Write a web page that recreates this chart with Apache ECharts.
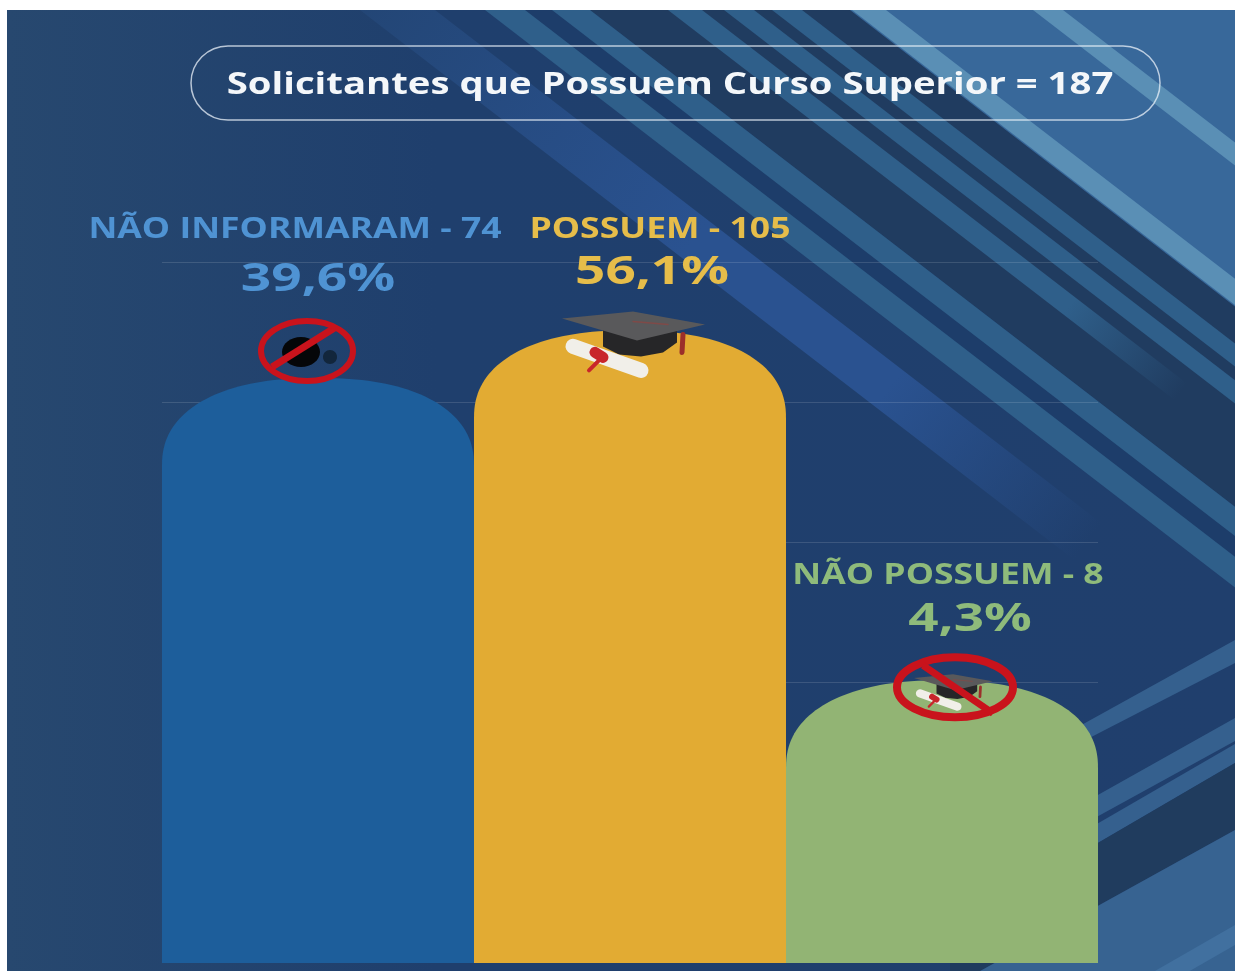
<!DOCTYPE html>
<html>
<head>
<meta charset="utf-8">
<title>Curso Superior</title>
<script src="https://cdn.jsdelivr.net/npm/echarts@6/dist/echarts.min.js"></script>
<style>
  html, body { margin: 0; padding: 0; background: #fff; }
  #chart { width: 1235px; height: 971px; }
</style>
</head>
<body>
<div id="chart"></div>
<script>
var chartTitle = "Solicitantes que Possuem Curso Superior = 187";
var categories = ["NÃO INFORMARAM", "POSSUEM", "NÃO POSSUEM"];
var counts = [74, 105, 8];
var percents = ["39,6%", "56,1%", "4,3%"];
var barColors = ["#1d5e9b", "#e2ab33", "#92b474"];
var textColors = ["#4f93d3", "#e6bd4a", "#8fbb7b"];

// eixo log: 5 divisoes iguais
var logBase = 2.805;
var axisMax = Math.pow(logBase, 5);

var slope = 0.77;
var left = 7, top0 = 10, W = 1235, H = 971;

// faixa diagonal do fundo, x0 = onde ela cruza o topo
function stripe(x0, w, yEnd, color, stops) {
  var dx = (yEnd - top0) / slope;
  var fill = color;
  if (stops) {
    fill = {
      type: "linear", global: true,
      x: x0, y: top0, x2: x0 + dx, y2: yEnd,
      colorStops: stops
    };
  }
  return {
    type: "polygon", z: -5, silent: true,
    shape: { points: [[x0, top0], [x0 + w, top0], [x0 + w + dx, yEnd], [x0 + dx, yEnd]] },
    style: { fill: fill }
  };
}

// faixa que sobe para a direita, canto inferior
function band(y1a, y1b, y2a, y2b, color) {
  var k = (y2a - y1a) / 235, k2 = (y2b - y1b) / 235;
  return {
    type: "polygon", z: -5, silent: true,
    shape: { points: [[950, y1a - k * 50], [W, y2a], [W, y2b], [950, y1b - k2 * 50]] },
    style: { fill: color }
  };
}

function label(txt, x, y, size, color, sx) {
  return {
    type: "text", z: 20, silent: true, x: x, y: y, scaleX: sx, originX: 0,
    style: {
      text: txt, fill: color, align: "center", verticalAlign: "middle",
      font: "700 " + size + "px 'Open Sans'"
    }
  };
}

var background = [
  {
    type: "rect", z: -6, silent: true,
    shape: { x: left, y: top0, width: W - left, height: H - top0 },
    style: {
      fill: {
        type: "linear", x: 0, y: 0, x2: 1, y2: 0,
        colorStops: [{ offset: 0, color: "#27486f" }, { offset: 0.35, color: "#1f3f6d" }, { offset: 1, color: "#203f6d" }]
      }
    }
  },
  stripe(360, 75, 560, "#2a5492", [
    { offset: 0, color: "#234676" },
    { offset: 0.45, color: "#2a5290" },
    { offset: 0.72, color: "#2a5290" },
    { offset: 1, color: "rgba(42,82,144,0)" }
  ]),
  stripe(510, 90, 980, "#1d3d6a"),
  stripe(590, 270, 1000, "#203c60"),
  stripe(485, 40, 1000, "#2f5f8a"),
  stripe(552, 38, 1000, "#2f5f8a"),
  stripe(668, 34, 400, "#2f5f8a", [
    { offset: 0, color: "#2f5f8a" },
    { offset: 0.78, color: "#2f5f8a" },
    { offset: 1, color: "rgba(47,95,138,0)" }
  ]),
  stripe(724, 30, 1000, "#2f5f8a"),
  stripe(772, 30, 1000, "#2f5f8a"),
  stripe(850, 900, 1000, "#38689a"),
  stripe(852, 34, 1000, "#5a8fb5"),
  stripe(1033, 30, 1000, "#5a8fb5"),
  band(770, 784, 640, 663, "#35608e"),
  band(850, 870, 718, 741, "#35608e"),
  band(880, 900, 744, 763, "#35608e"),
  band(900, 960, 763, 830, "#203c5e"),
  band(960, 1120, 830, 971, "#376391"),
  band(1060, 1080, 925, 945, "#41709f")
];

var pill = {
  type: "rect", z: 15, silent: true,
  shape: { x: 191, y: 46, width: 969, height: 74, r: 37 },
  style: { fill: "none", stroke: "rgba(235,242,250,0.75)", lineWidth: 1.5 }
};

var texts = [
  label(chartTitle, 670, 85, 30, "#f4f7fa", 1.277),
  label(categories[0] + " - " + counts[0], 295, 230, 28, textColors[0], 1.27),
  label(percents[0], 318, 280, 39, textColors[0], 1.366),
  label(categories[1] + " - " + counts[1], 660, 230, 28, textColors[1], 1.27),
  label(percents[1], 652, 273, 39, textColors[1], 1.36),
  label(categories[2] + " - " + counts[2], 948, 576, 28, textColors[2], 1.27),
  label(percents[2], 970, 620, 39, textColors[2], 1.36)
];

// chapeu de formatura, cx/cy = centro da placa
function hat(cx, cy, s) {
  function p(x, y) { return [cx + x * s, cy + y * s]; }
  function line(a, b, color, width) {
    return {
      type: "line",
      shape: { x1: a[0], y1: a[1], x2: b[0], y2: b[1] },
      style: { stroke: color, lineWidth: width * s, lineCap: "round" }
    };
  }
  return [
    { type: "polygon", shape: { points: [p(-30, 3), p(44, 3), p(44, 18), p(30, 28), p(8, 32), p(-14, 30), p(-30, 22)] }, style: { fill: "#262628" } },
    { type: "polygon", shape: { points: [p(-71, -6), p(0, -13), p(72, 0), p(4, 16)] }, style: { fill: "#59595b" } },
    line(p(0, -3), p(35, 0), "#7f4a48", 1.5),
    line(p(50, 10), p(49, 28), "#9c2f2a", 5),
    line(p(-60, 22), p(8, 46), "#f1efe9", 15),
    line(p(-38, 28), p(-30, 33), "#c8262b", 11),
    line(p(-34, 36), p(-44, 46), "#c8262b", 4)
  ];
}

// sinal de proibido
function noSign(cx, cy, rx, ry, width) {
  return {
    type: "ellipse",
    shape: { cx: cx, cy: cy, rx: rx, ry: ry },
    style: { fill: "none", stroke: "#c9131c", lineWidth: width }
  };
}

function slash(x1, y1, x2, y2, width) {
  return {
    type: "line",
    shape: { x1: x1, y1: y1, x2: x2, y2: y2 },
    style: { stroke: "#c9131c", lineWidth: width }
  };
}

function renderIcon(params, api) {
  var i = api.value(0);
  var top = api.coord([i, api.value(1)]);
  var x = top[0], y = top[1];
  var children = [];
  if (i === 0) {
    children = [
      { type: "ellipse", shape: { cx: x - 17, cy: y - 26, rx: 19, ry: 15 }, style: { fill: "#050608" } },
      { type: "ellipse", shape: { cx: x + 12, cy: y - 21, rx: 7, ry: 7 }, style: { fill: "#12263c" } },
      slash(x - 46, y - 11, x + 18, y - 51, 7),
      noSign(x - 11, y - 27, 46, 30, 6)
    ];
  } else if (i === 1) {
    children = hat(x + 3, y - 6, 1);
  } else {
    children = hat(x + 11, y + 1, 0.55).concat([
      noSign(x + 13, y + 7, 58, 30, 8),
      slash(x - 19, y - 15, x + 51, y + 33, 7)
    ]);
  }
  return { type: "group", children: children };
}

// coluna com topo arredondado (superelipse)
function renderBar(params, api) {
  var i = api.value(0);
  var top = api.coord([i, api.value(1)]);
  var base = api.coord([i, 1]);
  var rx = api.size([1, 1])[0] / 2;
  var ry = 88;
  var e = 2 / 2.3;
  var pts = [[top[0] - rx, base[1]]];
  for (var a = 0; a <= 80; a++) {
    var t = Math.PI - (a / 80) * Math.PI;
    var c = Math.cos(t);
    var cx = (c < 0 ? -1 : 1) * Math.pow(Math.abs(c), e);
    var sy = Math.pow(Math.abs(Math.sin(t)), e);
    pts.push([top[0] + rx * cx, top[1] + ry - ry * sy]);
  }
  pts.push([top[0] + rx, base[1]]);
  return {
    type: "polygon",
    shape: { points: pts },
    style: { fill: barColors[i] }
  };
}

var myChart = echarts.init(document.getElementById("chart"), null, { renderer: "canvas" });
myChart.setOption({
  animation: false,
  backgroundColor: "#fff",
  grid: { left: 162, right: 137, top: 262, bottom: 8 },
  xAxis: {
    type: "category",
    data: categories,
    axisLine: { show: false },
    axisTick: { show: false },
    axisLabel: { show: false }
  },
  yAxis: {
    type: "log",
    logBase: logBase,
    min: 1,
    max: axisMax,
    axisLine: { show: false },
    axisTick: { show: false },
    axisLabel: { show: false },
    splitLine: { show: true, showMinLine: false, lineStyle: { color: "rgba(255,255,255,0.13)", width: 1 } }
  },
  graphic: { elements: background.concat([pill], texts) },
  series: [
    {
      type: "custom",
      z: 3,
      silent: true,
      renderItem: renderBar,
      data: counts.map(function (v, i) { return [i, v]; }),
      encode: { x: 0, y: 1 }
    },
    {
      type: "custom",
      z: 6,
      silent: true,
      renderItem: renderIcon,
      data: counts.map(function (v, i) { return [i, v]; }),
      encode: { x: 0, y: 1 }
    }
  ]
});
</script>
</body>
</html>
